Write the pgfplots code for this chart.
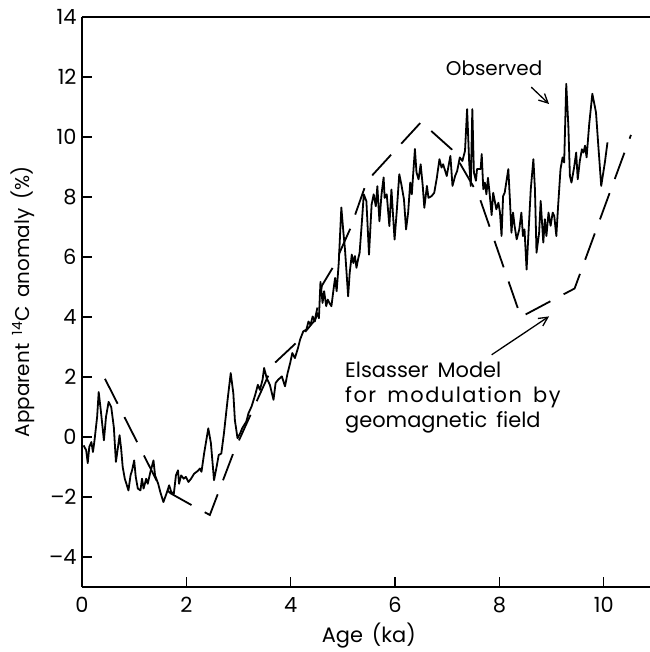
\documentclass[border=0pt]{standalone}
\usepackage{fontspec}
\setmainfont{Poppins}[WordSpace=1.6]
\usepackage{pgfplots}
\pgfplotsset{compat=1.18}
\usetikzlibrary{calc,arrows.meta}

\begin{document}
\begin{tikzpicture}[font=\fontsize{21}{25}\selectfont]
\begin{axis}[name=ax, scale only axis, width=568bp, height=570bp,
  xmin=0, xmax=10.885, ymin=-5, ymax=14,
  axis lines*=left, tick align=inside, major tick length=10bp,
  axis line style={line width=2bp},
  every tick/.style={line width=1.2bp, black},
  xtick={0,2,4,6,8,10}, xticklabels={0,2,4,6,8,10},
  ytick={-4,-2,0,2,4,6,8,10,12,14},
  yticklabels={–4,–2,0,2,4,6,8,10,12,14},
  xticklabel style={yshift=-7bp},
  yticklabel style={xshift=-2bp},
  xlabel={Age (ka)},
  ylabel={Apparent \textsuperscript{14}C anomaly (\%)},
  xlabel style={at={(axis description cs:0.505,-0.086)}, anchor=center},
  ylabel style={at={(axis description cs:-0.104,0.5)}, anchor=center, font=\fontsize{20}{24}\selectfont},
  clip=false]

% Observed
\addplot[line width=1.8bp, line join=round, black] coordinates {
(0.03,-0.28) (0.08,-0.44) (0.11,-0.87) (0.14,-0.33) (0.18,-0.17) (0.21,-0.5)
(0.24,-0.11) (0.29,0.67) (0.32,1.5) (0.36,0.89) (0.42,-0.11) (0.46,0.67)
(0.51,1.17) (0.56,1.0) (0.61,0.33) (0.65,-0.83) (0.69,-0.33) (0.72,0.06)
(0.75,-0.39) (0.78,-1.0) (0.82,-1.39) (0.86,-1.61) (0.89,-1.78) (0.93,-1.28)
(0.96,-1.11) (1.0,-0.78) (1.03,-1.33) (1.07,-1.72) (1.12,-1.78) (1.15,-1.39)
(1.18,-1.72) (1.23,-1.39) (1.26,-1.56) (1.31,-1.17) (1.37,-0.78) (1.40,-1.28)
(1.46,-1.56) (1.50,-1.83) (1.56,-2.17) (1.63,-1.83) (1.67,-1.61) (1.71,-1.83)
(1.76,-1.89) (1.80,-1.28) (1.84,-1.11) (1.86,-1.56) (1.90,-1.28) (1.95,-1.39)
(1.99,-1.33)
(2.04,-1.5) (2.09,-1.39) (2.15,-1.22) (2.22,-1.13) (2.26,-1.05) (2.29,-1.16)
(2.34,-0.55) (2.42,0.29) (2.47,-0.2) (2.53,-1.44) (2.58,-0.99) (2.62,-0.60)
(2.67,-0.55) (2.72,0.12) (2.79,1.24) (2.85,2.13) (2.90,1.46) (2.93,0.56)
(2.98,-0.04) (3.03,0.12) (3.07,0.29) (3.15,0.52) (3.19,0.79) (3.25,1.02)
(3.32,1.41) (3.37,1.74) (3.41,1.57) (3.46,1.91) (3.49,2.3) (3.54,1.96)
(3.60,1.74) (3.67,1.24) (3.71,1.8) (3.76,1.91) (3.83,2.02) (3.89,1.69)
(3.94,2.13) (3.99,2.47) (4.03,2.8) (4.08,2.63) (4.14,2.97)
(4.18,3.25) (4.24,3.52) (4.30,3.58) (4.34,3.85) (4.38,3.74) (4.42,4.02)
(4.46,3.85) (4.51,4.13) (4.54,3.96) (4.57,5.17) (4.61,4.47) (4.64,4.86)
(4.68,4.36) (4.71,4.58) (4.74,4.47) (4.78,4.36) (4.82,4.92) (4.85,5.3)
(4.88,4.86) (4.92,5.8) (4.97,7.65) (5.01,6.81) (5.04,6.25) (5.07,5.47)
(5.10,4.69) (5.13,5.47) (5.17,6.08) (5.20,5.8) (5.23,6.03) (5.26,5.64)
(5.29,5.92) (5.32,6.14) (5.36,7.08) (5.40,8.09) (5.45,7.86) (5.50,6.08)
(5.55,7.75) (5.59,8.09) (5.63,7.69) (5.66,8.36) (5.70,7.19) (5.74,8.09)
(5.78,8.65) (5.80,7.97) (5.84,8.09) (5.89,7.03) (5.93,8.25) (5.99,6.58)
(6.03,7.48) (6.08,8.76) (6.12,8.42) (6.17,7.92) (6.21,6.92) (6.25,7.48)
(6.29,8.48) (6.32,8.09) (6.38,9.6) (6.41,8.82) (6.45,8.59) (6.49,9.09)
(6.53,8.37) (6.56,7.64) (6.61,8.37) (6.64,7.97) (6.70,8.03) (6.75,8.14)
(6.80,8.64) (6.85,9.26) (6.89,8.98) (6.92,9.09) (6.96,8.87) (6.99,8.7)
(7.03,9.09) (7.06,9.37) (7.10,8.37) (7.15,8.7) (7.19,8.87) (7.24,9.32)
(7.29,9.2) (7.34,9.54) (7.38,10.93) (7.42,9.15) (7.45,8.37) (7.48,10.93)
(7.51,8.82) (7.55,8.54) (7.57,8.93) (7.64,8.93) (7.66,9.43) (7.69,8.26)
(7.72,8.48) (7.75,8.09) (7.78,8.64) (7.81,8.14)
(7.85,7.4) (7.88,8.14) (7.91,7.87) (7.94,7.59) (7.98,7.81) (8.01,7.48)
(8.04,6.7) (8.07,8.03) (8.10,8.14) (8.14,8.59) (8.17,8.93) (8.20,7.92)
(8.23,6.81) (8.26,7.48) (8.29,7.04) (8.33,6.59) (8.38,6.92) (8.42,7.48)
(8.45,6.7) (8.48,6.92) (8.52,5.58) (8.56,6.92) (8.60,8.26) (8.65,9.26)
(8.68,8.26) (8.71,6.14) (8.76,6.81) (8.79,7.87) (8.84,6.48) (8.87,7.26)
(8.90,6.7) (8.94,7.48) (8.98,7.04) (9.02,7.48) (9.05,7.37) (9.09,6.7)
(9.12,7.59) (9.17,8.93) (9.21,9.32) (9.24,9.15) (9.28,11.77) (9.32,10.38)
(9.35,8.7) (9.38,8.48) (9.43,8.98) (9.47,9.48) (9.50,8.59) (9.54,9.2)
(9.58,9.59) (9.61,9.48) (9.64,9.71) (9.67,9.32) (9.72,10.43) (9.78,11.44)
(9.85,10.82) (9.89,9.82) (9.95,8.37) (10.02,9.15) (10.07,9.82)
};

% Elsasser model
\addplot[line width=1.8bp, black, dash pattern=on 28bp off 15bp] coordinates {
(0.44,1.94) (1.43,-1.45) (1.70,-1.88) (2.10,-2.27) (2.45,-2.6) (2.91,-0.49)
(3.67,2.43) (4.10,3.13) (4.46,3.89) (4.60,5.05) (4.82,5.69) (5.14,6.94)
(5.42,8.33) (5.54,8.68) (5.94,9.44) (6.50,10.5) (7.09,9.58) (7.61,8.02)
(8.41,4.0) (8.95,4.5) (9.44,4.95) (10.52,10.07)
};

\draw[line width=2bp] (rel axis cs:0,1) -- (rel axis cs:1,1);

\node[anchor=base west, inner sep=0pt, font=\fontsize{20}{24}\selectfont] at (axis cs:6.97,12.05) {Observed};
\draw[line width=1.3bp, -{Straight Barb[length=9bp,width=9bp]}] (axis cs:8.61,11.66) -- (axis cs:8.95,11.1);

\node[anchor=north west, inner sep=0pt, align=left, font=\fontsize{21}{25.3}\selectfont] at (axis cs:5.04,2.51)
  {Elsasser Model\\{\addfontfeatures{LetterSpace=7}for modulation by}\\geomagnetic field};
\draw[line width=1.3bp, -{Straight Barb[length=9bp,width=9bp]}] (axis cs:7.85,2.74) -- (axis cs:8.95,4.02);
\end{axis}
\pgfresetboundingbox
\useasboundingbox ($(ax.south west)+(-82bp,-65bp)$) rectangle ($(ax.north east)+(0bp,17bp)$);
\end{tikzpicture}
\end{document}
